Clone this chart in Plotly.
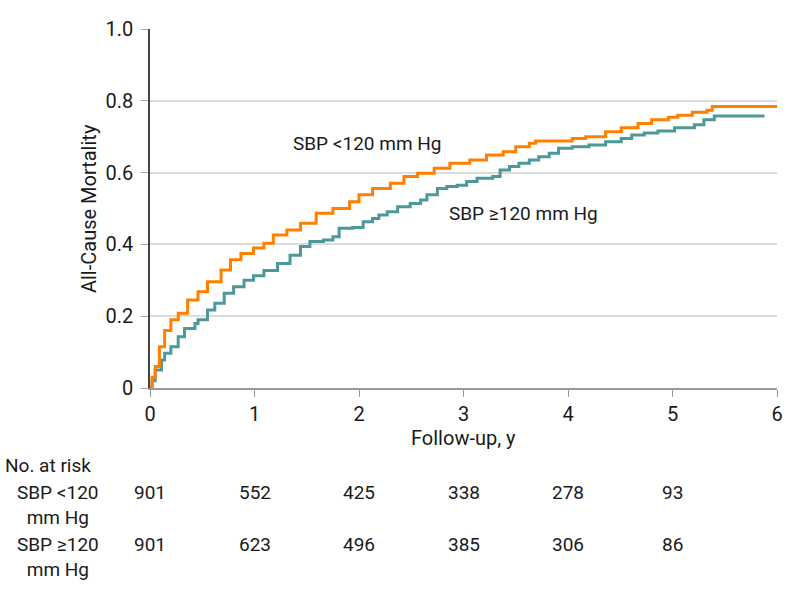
import plotly.graph_objects as go

# Kaplan-Meier style cumulative mortality
low_t = [0, 0.02, 0.05, 0.09, 0.14, 0.2, 0.27, 0.36, 0.46, 0.55, 0.68, 0.77, 0.87, 0.99, 1.09,
         1.18, 1.31, 1.44, 1.59, 1.75, 1.91, 2.0, 2.13, 2.3, 2.43, 2.56, 2.72, 2.87, 3.06, 3.22,
         3.38, 3.5, 3.63, 3.69, 4.04, 4.17, 4.36, 4.51, 4.67, 4.8, 4.96, 5.05, 5.19, 5.33, 5.38, 6.0]
low_v = [0, 0.03, 0.06, 0.115, 0.16, 0.19, 0.208, 0.245, 0.268, 0.296, 0.329, 0.357, 0.375, 0.39, 0.403,
         0.426, 0.44, 0.459, 0.487, 0.5, 0.519, 0.538, 0.556, 0.57, 0.589, 0.598, 0.612, 0.626, 0.635, 0.649,
         0.658, 0.672, 0.682, 0.688, 0.695, 0.70, 0.714, 0.725, 0.737, 0.747, 0.754, 0.76, 0.768, 0.774, 0.784, 0.784]

high_t = [0, 0.02, 0.05, 0.11, 0.14, 0.2, 0.27, 0.33, 0.43, 0.46, 0.55, 0.62, 0.71, 0.8, 0.9, 0.99,
          1.09, 1.22, 1.34, 1.44, 1.53, 1.66, 1.75, 1.81, 1.94, 2.04, 2.13, 2.19, 2.27, 2.37, 2.49,
          2.59, 2.65, 2.75, 2.84, 2.94, 3.03, 3.13, 3.28, 3.35, 3.44, 3.53, 3.63, 3.72, 3.82, 3.91,
          4.04, 4.2, 4.36, 4.51, 4.61, 4.73, 4.86, 5.02, 5.21, 5.3, 5.4, 5.88]
high_v = [0, 0.02, 0.05, 0.078, 0.097, 0.115, 0.143, 0.166, 0.18, 0.19, 0.217, 0.236, 0.264, 0.282, 0.30, 0.313,
          0.327, 0.347, 0.37, 0.394, 0.408, 0.412, 0.421, 0.445, 0.447, 0.463, 0.472, 0.482, 0.491, 0.505, 0.514,
          0.524, 0.538, 0.556, 0.561, 0.565, 0.575, 0.584, 0.589, 0.607, 0.617, 0.626, 0.635, 0.644, 0.654, 0.668,
          0.672, 0.677, 0.686, 0.695, 0.705, 0.71, 0.716, 0.725, 0.733, 0.747, 0.758, 0.758]

risk_years = [0, 1, 2, 3, 4, 5]
risk_low = [901, 552, 425, 338, 278, 93]
risk_high = [901, 623, 496, 385, 306, 86]

orange = "#FF8000"
teal = "#4D9898"
font_family = "Roboto, Liberation Sans, sans-serif"

fig = go.Figure()
fig.add_trace(go.Scatter(x=high_t, y=high_v, mode="lines", line_shape="hv",
                         line=dict(color=teal, width=3), name="SBP ≥120 mm Hg"))
fig.add_trace(go.Scatter(x=low_t, y=low_v, mode="lines", line_shape="hv",
                         line=dict(color=orange, width=3), name="SBP <120 mm Hg"))


def note(x, y, text, xref="x", yref="paper", **kw):
    d = dict(x=x, y=y, xref=xref, yref=yref, text=text, showarrow=False,
             xanchor="center", yanchor="middle")
    d.update(kw)
    return d


annots = [
    note(2.08, 0.682, "SBP <120 mm Hg", yref="y"),
    note(3.57, 0.487, "SBP ≥120 mm Hg", yref="y"),
    note(-0.098, 0.5, "All-Cause Mortality", xref="paper", textangle=-90, font=dict(size=20)),
    note(3, -0.139, "Follow-up, y", font=dict(size=20)),
    note(-0.234, -0.2145, "No. at risk", xref="paper", xanchor="left"),
    note(-0.147, -0.327, "SBP <120<br>mm Hg", xref="paper"),
    note(-0.147, -0.472, "SBP ≥120<br>mm Hg", xref="paper"),
]
for yr, a, b in zip(risk_years, risk_low, risk_high):
    annots.append(note(yr, -0.292, str(a)))
    annots.append(note(yr, -0.437, str(b)))

fig.update_layout(
    width=794, height=598,
    margin=dict(l=150, r=11, t=29, b=210),
    plot_bgcolor="white", paper_bgcolor="white",
    showlegend=False,
    font=dict(family=font_family, size=19, color="#1a1a1a"),
    annotations=annots,
    xaxis=dict(range=[0, 6], tickvals=[0, 1, 2, 3, 4, 5, 6], showgrid=False,
               showline=True, linecolor="#999", linewidth=2, ticks="outside",
               ticklen=7, tickcolor="#999", zeroline=False, tickfont=dict(size=20)),
    yaxis=dict(range=[0, 1], tickvals=[0, 0.2, 0.4, 0.6, 0.8, 1.0],
               ticktext=["0", "0.2", "0.4", "0.6", "0.8", "1.0"],
               showgrid=True, gridcolor="#dcdcdc", gridwidth=2,
               showline=True, linecolor="#444", linewidth=1.5, ticks="outside",
               ticklen=7, tickcolor="#aaa", zeroline=False, tickfont=dict(size=20),
               ticklabelstandoff=4),
)

fig.write_html("out.html", config={"displayModeBar": False},
               post_script="document.body.style.margin='0';")
